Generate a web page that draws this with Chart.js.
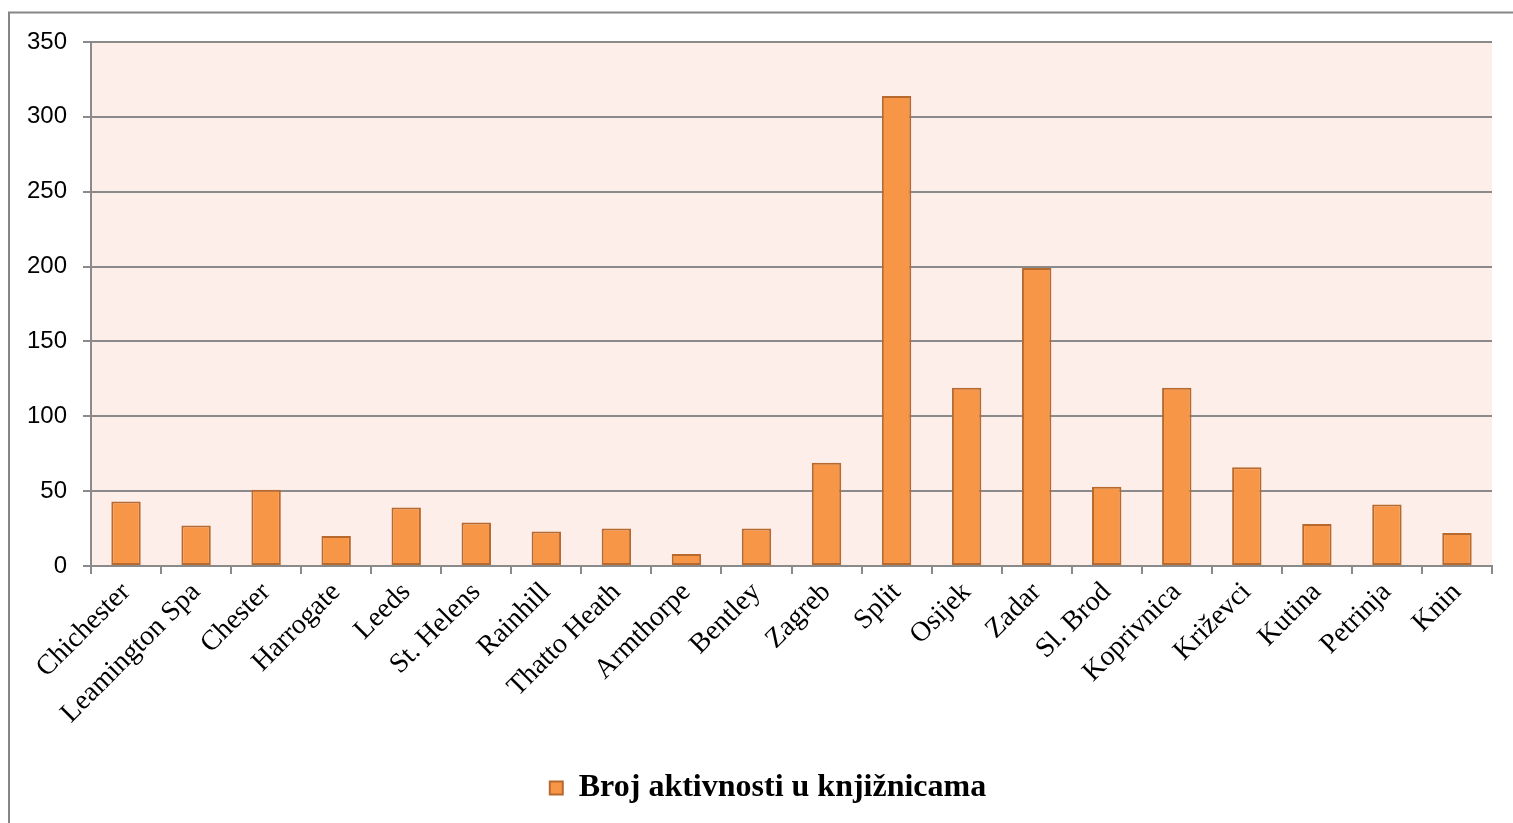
<!DOCTYPE html>
<html>
<head>
<meta charset="utf-8">
<script src="https://cdn.jsdelivr.net/npm/chart.js@4"></script>
<style>
html,body{margin:0;padding:0;background:#fff;}
#wrap{width:1513px;height:823px;position:relative;}
</style>
</head>
<body>
<div id="wrap"><canvas id="c" width="1513" height="823"></canvas></div>
<script>
const categories = ["Chichester","Leamington Spa","Chester","Harrogate","Leeds","St. Helens","Rainhill","Thatto Heath","Armthorpe","Bentley","Zagreb","Split","Osijek","Zadar","Sl. Brod","Koprivnica","Križevci","Kutina","Petrinja","Knin"];
const activityCounts = [43,27,51,20,39,29,23,25,8,25,69,314,119,199,53,119,66,28,41,22];
const seriesName = "Broj aktivnosti u knjižnicama";
const yMin = 0, yMax = 350, yStep = 50;

const frame = {
  id: 'frame',
  afterLayout(chart) {
    const l = chart.legend;
    if (l) { l.left += 22; l.right += 22; }
  },
  beforeDraw(chart) {
    const ctx = chart.ctx, a = chart.chartArea;
    ctx.save();
    ctx.fillStyle = '#fff';
    ctx.fillRect(0, 0, chart.width, chart.height);
    ctx.strokeStyle = '#868686';
    ctx.lineWidth = 2;
    ctx.strokeRect(9, 12.5, chart.width + 20, chart.height + 20);
    ctx.fillStyle = '#FDEEEA';
    ctx.fillRect(a.left, a.top, a.right - a.left, a.bottom - a.top);
    ctx.restore();
  }
};

new Chart(document.getElementById('c'), {
  type: 'bar',
  data: {
    labels: categories,
    datasets: [{
      label: seriesName,
      data: activityCounts,
      backgroundColor: '#F79646',
      borderColor: '#B86A2E',
      borderWidth: 2,
      borderSkipped: false,
      barPercentage: 0.42,
      categoryPercentage: 1
    }]
  },
  options: {
    responsive: false,
    devicePixelRatio: 1,
    animation: false,
    layout: { padding: { left: 0, right: 21, top: 42, bottom: 9 } },
    plugins: {
      tooltip: { enabled: false },
      legend: {
        position: 'bottom',
        labels: {
          color: '#000',
          font: { family: 'Liberation Serif', size: 32, weight: 'bold' },
          boxWidth: 13,
          boxHeight: 13,
          padding: 12
        }
      }
    },
    scales: {
      x: {
        grid: { display: true, drawOnChartArea: false, offset: true, tickLength: 8, color: '#8A8A8A', lineWidth: 2 },
        border: { display: true, color: '#8A8A8A', width: 2 },
        ticks: {
          color: '#000',
          font: { family: 'Liberation Serif', size: 28 },
          maxRotation: 45, minRotation: 45, autoSkip: false, padding: 2
        },
        afterFit(scale) { scale.height = 194; }
      },
      y: {
        min: yMin, max: yMax,
        grid: { color: '#8A8A8A', lineWidth: 2, tickLength: 8 },
        border: { display: true, color: '#8A8A8A', width: 2 },
        ticks: {
          stepSize: yStep,
          color: '#000',
          font: { family: 'Liberation Sans', size: 24 },
          padding: 16
        },
        afterFit(scale) { scale.width = 91; }
      }
    }
  },
  plugins: [frame]
});
</script>
</body>
</html>
